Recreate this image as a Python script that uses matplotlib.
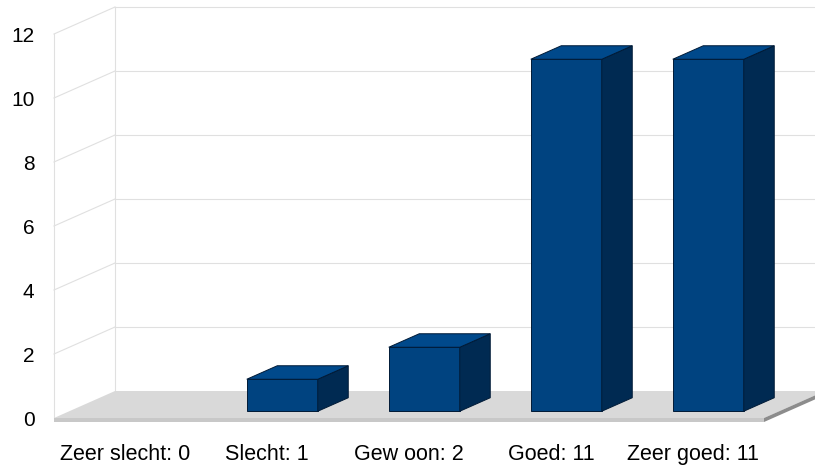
import matplotlib.pyplot as plt
from matplotlib.patches import Polygon, Rectangle

categories = ["Zeer slecht: 0", "Slecht: 1", "Gew oon: 2", "Goed: 11", "Zeer goed: 11"]
values = [0, 1, 2, 11, 11]
yticks = [0, 2, 4, 6, 8, 10, 12]

plt.rcParams['font.family'] = ['Liberation Sans', 'DejaVu Sans']

fig = plt.figure(figsize=(8.15, 4.68), dpi=100)
ax = fig.add_axes([54 / 815, 50 / 468, 710 / 815, 384 / 468])
ax.set_xlim(0, len(categories))
ax.set_ylim(0, 12)

# depth offset of the pseudo 3d box (data units)
DX = 61 / 142
DY = 27 / 32
n = len(categories)
grid_c = "#e0e0e0"

# walls: grid lines on left and back wall
for v in yticks[1:]:
    ax.plot([0, DX], [v, v + DY], color=grid_c, lw=0.8, clip_on=False, zorder=1)
    ax.plot([DX, n + DX], [v + DY, v + DY], color=grid_c, lw=0.8, clip_on=False, zorder=1)
ax.plot([0, 0], [0, 12], color=grid_c, lw=0.8, clip_on=False, zorder=1)
ax.plot([DX, DX], [DY, 12 + DY], color=grid_c, lw=0.8, clip_on=False, zorder=1)

# floor slab
t = 4 / 32
ax.add_patch(Polygon([(0, 0), (n, 0), (n + DX, DY), (DX, DY)], closed=True,
                     fc="#d9d9d9", ec="none", clip_on=False, zorder=2))
ax.add_patch(Polygon([(0, 0), (n, 0), (n, -t), (0, -t)], closed=True,
                     fc="#c8c8c8", ec="none", clip_on=False, zorder=2))
ax.add_patch(Polygon([(n, 0), (n + DX, DY), (n + DX, DY - t), (n, -t)], closed=True,
                     fc="#8c8c8c", ec="none", clip_on=False, zorder=2))

# bars
front_c = "#004380"
side_c = "#002a52"
top_c = "#00498b"
edge_c = "#001a36"
bw = 0.5
f0, f1 = 0.25, 0.75
for i, v in enumerate(values):
    if v == 0:
        continue
    x0 = i + 0.25 + f0 * DX
    y0 = f0 * DY
    ddx = (f1 - f0) * DX
    ddy = (f1 - f0) * DY
    ax.add_patch(Rectangle((x0, y0), bw, v, fc=front_c, ec=edge_c, lw=0.7,
                           clip_on=False, zorder=3))
    ax.add_patch(Polygon([(x0 + bw, y0), (x0 + bw + ddx, y0 + ddy),
                          (x0 + bw + ddx, y0 + ddy + v), (x0 + bw, y0 + v)],
                         closed=True, fc=side_c, ec=edge_c, lw=0.7, clip_on=False, zorder=3))
    ax.add_patch(Polygon([(x0, y0 + v), (x0 + bw, y0 + v),
                          (x0 + bw + ddx, y0 + v + ddy), (x0 + ddx, y0 + v + ddy)],
                         closed=True, fc=top_c, ec=edge_c, lw=0.7, clip_on=False, zorder=3))

ax.set_yticks(yticks)
ax.set_yticklabels([str(v) for v in yticks], fontsize=15)
ax.set_xticks([i + 0.5 for i in range(n)])
ax.set_xticklabels(categories, fontsize=15.5)
ax.tick_params(axis='y', length=0, pad=14)
ax.tick_params(axis='x', length=0, pad=19)
for s in ax.spines.values():
    s.set_visible(False)
ax.patch.set_visible(False)

fig.savefig("out.png", dpi=100)
